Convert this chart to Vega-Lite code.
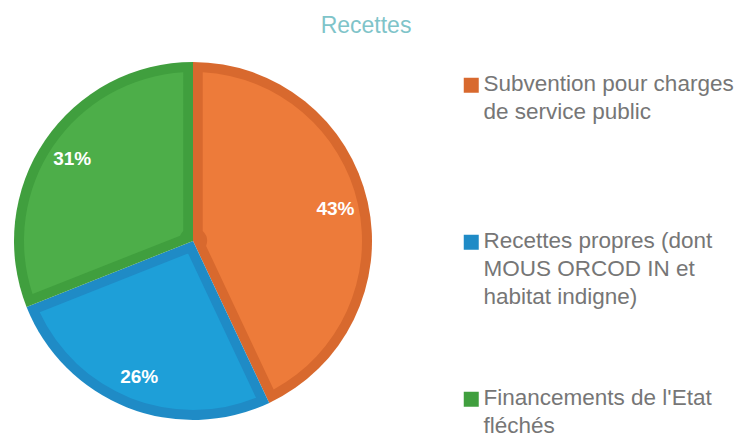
{
  "$schema": "https://vega.github.io/schema/vega-lite/v6.json",
  "width": 386,
  "height": 380,
  "autosize": "none",
  "padding": {"left": 0, "top": 51, "right": 353, "bottom": 3},
  "background": "white",
  "title": {
    "text": "Recettes",
    "fontSize": 23,
    "font": "Liberation Sans",
    "fontWeight": "normal",
    "color": "#7FC4C9",
    "anchor": "middle",
    "dx": 173,
    "offset": 13
  },
  "data": {
    "values": [
      {"cat": "Subvention pour charges de service public", "v": 43, "lab": "43%", "o": 1},
      {"cat": "Recettes propres (dont MOUS ORCOD IN et habitat indigne)", "v": 26, "lab": "26%", "o": 2},
      {"cat": "Financements de l'Etat fléchés", "v": 31, "lab": "31%", "o": 3}
    ]
  },
  "config": {"view": {"stroke": null}},
  "layer": [
    {
      "mark": {"type": "arc", "outerRadius": 179},
      "encoding": {
        "theta": {"field": "v", "type": "quantitative", "stack": true},
        "order": {"field": "o", "type": "quantitative"},
        "fill": {
          "field": "cat",
          "type": "nominal",
          "sort": null,
          "scale": {
            "domain": ["Subvention pour charges de service public", "Recettes propres (dont MOUS ORCOD IN et habitat indigne)", "Financements de l'Etat fléchés"],
            "range": ["#D8692E", "#1F8BC6", "#409F3E"]
          },
          "legend": {
            "orient": "none",
            "legendX": 460,
            "legendY": 23,
            "title": null,
            "symbolType": "square",
            "symbolSize": 225,
            "symbolStrokeWidth": 0,
            "labelFont": "Liberation Sans",
            "labelFontSize": 22.5,
            "labelColor": "#767676",
            "labelOffset": 1,
            "labelLimit": 400,
            "labelBaseline": "top",
            "rowPadding": 78,
            "padding": 0,
            "labelExpr": "datum.label == 'Subvention pour charges de service public' ? ['Subvention pour charges', 'de service public', ''] : datum.label == 'Financements de l\\'Etat fléchés' ? ['Financements de l\\'Etat', 'fléchés', ''] : ['Recettes propres (dont', 'MOUS ORCOD IN et', 'habitat indigne)']",
            "encode": {
              "labels": {"update": {"lineHeight": {"value": 28}, "dy": {"value": -12}}}
            }
          }
        }
      }
    },
    {
      "mark": {"type": "arc", "outerRadius": 169, "innerRadius": 14, "padAngle": 0.115},
      "encoding": {
        "theta": {"field": "v", "type": "quantitative", "stack": true},
        "order": {"field": "o", "type": "quantitative"},
        "color": {
          "field": "cat",
          "type": "nominal",
          "sort": null,
          "scale": {
            "domain": ["Subvention pour charges de service public", "Recettes propres (dont MOUS ORCOD IN et habitat indigne)", "Financements de l'Etat fléchés"],
            "range": ["#ED7B3A", "#1E9FD8", "#4DAE49"]
          },
          "legend": null
        }
      }
    },
    {
      "mark": {"type": "text", "radius": 146, "fontSize": 19, "fontWeight": "bold", "font": "Liberation Sans", "color": "white"},
      "encoding": {
        "theta": {"field": "v", "type": "quantitative", "stack": true},
        "order": {"field": "o", "type": "quantitative"},
        "text": {"field": "lab", "type": "nominal"}
      }
    }
  ]
}
